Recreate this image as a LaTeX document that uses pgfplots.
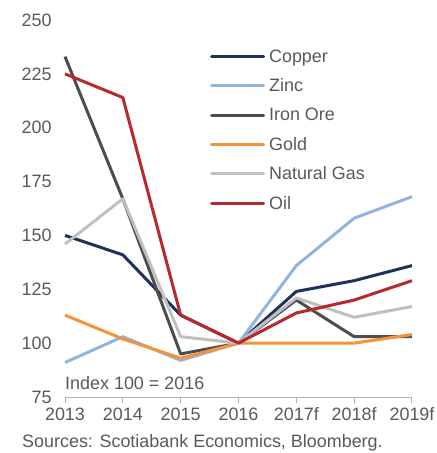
\documentclass[border=0pt]{standalone}
\usepackage{pgfplots}
\pgfplotsset{compat=1.18}
\usepackage{fontspec}
\setmainfont{Liberation Sans}
\definecolor{txt}{HTML}{595959}
\definecolor{copper}{HTML}{1F3259}
\definecolor{zinc}{HTML}{95B3E0}
\definecolor{iron}{HTML}{4D4D4D}
\definecolor{gold}{HTML}{F7923A}
\definecolor{gas}{HTML}{C0C0C0}
\definecolor{oil}{HTML}{B8282F}
\begin{document}
\begin{tikzpicture}
\begin{axis}[
  at={(0,0)}, anchor=south west,
  scale only axis, width=347bp, height=377bp,
  xmin=0, xmax=6, ymin=75, ymax=250,
  xtick={0,...,6},
  xticklabels={2013,2014,2015,2016,2017f,2018f,2019f},
  ytick={75,100,...,250},
  axis x line*=bottom, axis y line*=left,
  x axis line style={draw=gray!60, line width=1pt, -},
  y axis line style={draw=none},
  major tick length=6bp,
  xtick style={draw=gray!60, line width=1pt},
  tick align=outside,
  ytick style={draw=none},
  /pgf/number format/assume math mode=true,
  ticklabel style={font=\fontsize{18}{22}\selectfont, text=txt},
  yticklabel style={xshift=-4bp},
  xticklabel style={yshift=-1bp},
  clip=false,
  every axis plot/.append style={line width=3bp, line join=round},
  legend style={draw=none, fill=none, at={(0.409,0.93)}, anchor=north west,
    font=\fontsize{18}{22}\selectfont, text=txt, row sep=13bp,
    nodes={inner sep=1bp}},
  legend cell align=left,
  legend image code/.code={\draw[#1, line cap=round] (0bp,0bp) -- (52bp,0bp); \path (55bp,0bp);},
]
\addplot[copper] coordinates {(0,150) (1,141) (2,113) (3,100) (4,124) (5,129) (6,136)};
\addlegendentry{Copper}
\addplot[zinc] coordinates {(0,91) (1,103) (2,92) (3,100) (4,136) (5,158) (6,168)};
\addlegendentry{Zinc}
\addplot[iron] coordinates {(0,233) (1,167) (2,95) (3,100) (4,120) (5,103) (6,103)};
\addlegendentry{Iron Ore}
\addplot[gold] coordinates {(0,113) (1,102) (2,93) (3,100) (4,100) (5,100) (6,104)};
\addlegendentry{Gold}
\addplot[gas] coordinates {(0,146) (1,167) (2,103) (3,100) (4,121) (5,112) (6,117)};
\addlegendentry{Natural Gas}
\addplot[oil] coordinates {(0,225) (1,214) (2,113) (3,100) (4,114) (5,120) (6,129)};
\addlegendentry{Oil}
\node[anchor=base west, inner sep=0, text=txt, font=\fontsize{18}{22}\selectfont] at (rel axis cs:0,0.02) {Index 100 = 2016};
\end{axis}
\node[anchor=base west, inner sep=0, text=txt, font=\fontsize{18}{22}\selectfont] at (-43bp,-50bp) {Sources: Scotiabank Economics, Bloomberg.};
\pgfresetboundingbox
\path[use as bounding box] (-65bp,-56bp) rectangle (372bp,397bp);
\end{tikzpicture}
\end{document}
